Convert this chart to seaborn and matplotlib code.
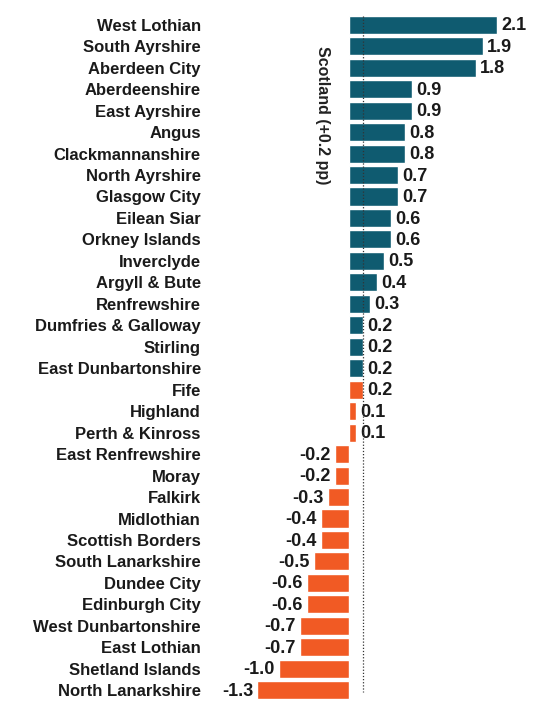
import matplotlib
matplotlib.use("Agg")
import matplotlib.pyplot as plt
import seaborn as sns
import pandas as pd

areas = ["West Lothian", "South Ayrshire", "Aberdeen City", "Aberdeenshire", "East Ayrshire",
         "Angus", "Clackmannanshire", "North Ayrshire", "Glasgow City", "Eilean Siar",
         "Orkney Islands", "Inverclyde", "Argyll & Bute", "Renfrewshire", "Dumfries & Galloway",
         "Stirling", "East Dunbartonshire", "Fife", "Highland", "Perth & Kinross",
         "East Renfrewshire", "Moray", "Falkirk", "Midlothian", "Scottish Borders",
         "South Lanarkshire", "Dundee City", "Edinburgh City", "West Dunbartonshire",
         "East Lothian", "Shetland Islands", "North Lanarkshire"]
values = [2.1, 1.9, 1.8, 0.9, 0.9, 0.8, 0.8, 0.7, 0.7, 0.6, 0.6, 0.5, 0.4, 0.3, 0.2,
          0.2, 0.2, 0.2, 0.1, 0.1, -0.2, -0.2, -0.3, -0.4, -0.4, -0.5, -0.6, -0.6, -0.7,
          -0.7, -1.0, -1.3]
n_teal = 17
scotland = 0.2
scotland_label = "Scotland (+0.2 pp)"

TEAL = "#0f5b70"
ORANGE = "#f15a24"
colors = [TEAL if i < n_teal else ORANGE for i in range(len(areas))]

df = pd.DataFrame({"area": areas, "value": values})

sns.set_style("white")
plt.rcParams["font.family"] = ["Liberation Sans", "DejaVu Sans"]

fig = plt.figure(figsize=(5.35, 7.01), dpi=100)
ax = fig.add_axes([205 / 535, 0.0, 325 / 535, 1 - 14 / 701])

sns.barplot(data=df, x="value", y="area", hue="area", palette=colors, legend=False,
            orient="h", width=0.84, saturation=1, ax=ax)

x0 = -144 / 70.5
x1 = 181 / 70.5
ax.set_xlim(x0, x1)
ax.set_ylim(len(areas) - 0.5, -0.5)

ax.vlines(scotland, -0.4, len(areas) - 0.9, color="#333333",
          linestyle=(0, (1, 1.5)), linewidth=0.9, zorder=5)

for i, v in enumerate(values):
    if v >= 0:
        ax.text(v + 0.06, i + 0.05, f"{v:.1f}", ha="left", va="center", fontsize=13,
                fontweight="bold", color="#1a1a1a")
    else:
        ax.text(v - 0.06, i + 0.05, f"{v:.1f}", ha="right", va="center", fontsize=13,
                fontweight="bold", color="#1a1a1a")

ax.text(-0.38, 4.2, scotland_label, rotation=-90, ha="center", va="center",
        fontsize=11.5, fontweight="bold", color="#222222")

ax.set_xlabel("")
ax.set_ylabel("")
ax.set_xticks([])
ax.tick_params(axis="y", length=0, pad=3)
for lab in ax.get_yticklabels():
    lab.set_fontweight("bold")
    lab.set_fontsize(12)
    lab.set_color("#1a1a1a")
for s in ax.spines.values():
    s.set_visible(False)

fig.savefig("out.png", dpi=100)
